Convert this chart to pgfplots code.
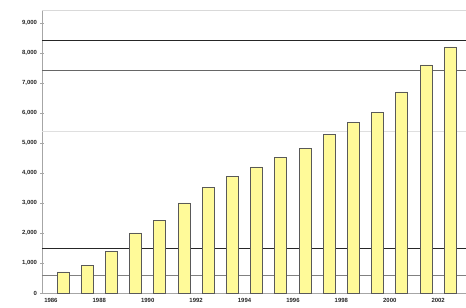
\documentclass[border=0pt]{standalone}
\usepackage{pgfplots}
\pgfplotsset{compat=1.18}
\usepackage{fontspec}
\setmainfont{Liberation Sans}
\begin{document}
\begin{tikzpicture}
\useasboundingbox (0,0) rectangle (466bp,308bp);
\begin{axis}[
  at={(42bp,15bp)}, anchor=south west,
  scale only axis, width=424bp, height=283bp,
  xmin=-0.868, xmax=16.65, ymin=0, ymax=9433,
  axis lines=left, axis line style={gray!70, -},
  ytick={0,1000,...,9000},
  yticklabels={0,{1,000},{2,000},{3,000},{4,000},{5,000},{6,000},{7,000},{8,000},{9,000}},
  xtick={-0.5,1.5,...,15.5},
  xticklabels={1986,1988,1990,1992,1994,1996,1998,2000,2002},
  tick label style={font=\bfseries\fontsize{6}{7}\selectfont, text=black!85},
  /pgf/number format/assume math mode=true,
  major tick length=3bp, tick style={gray!70},
  xtick style={draw=none},
  clip=false,
]
\addplot[black!85, line width=1pt] coordinates {(-0.868,8430) (16.65,8430)};
\addplot[black!60, line width=0.8pt] coordinates {(-0.868,7430) (16.65,7430)};
\addplot[gray!30, line width=0.6pt] coordinates {(-0.868,9430) (16.65,9430)};
\addplot[gray!25, line width=0.5pt] coordinates {(-0.868,5400) (16.65,5400)};
\addplot[black!85, line width=1pt] coordinates {(-0.868,1500) (16.65,1500)};
\addplot[black!50, line width=0.6pt] coordinates {(-0.868,600) (16.65,600)};
\addplot[ybar, bar width=12bp, fill=yellow!40, draw=black!65, line width=0.8pt]
 coordinates {
 (0,700) (1,930) (2,1370) (3,2000) (4,2430) (5,3000) (6,3530) (7,3870) (8,4200)
 (9,4530) (10,4830) (11,5270) (12,5670) (13,6030) (14,6700) (15,7600) (16,8200)
 };
\end{axis}
\end{tikzpicture}
\end{document}
